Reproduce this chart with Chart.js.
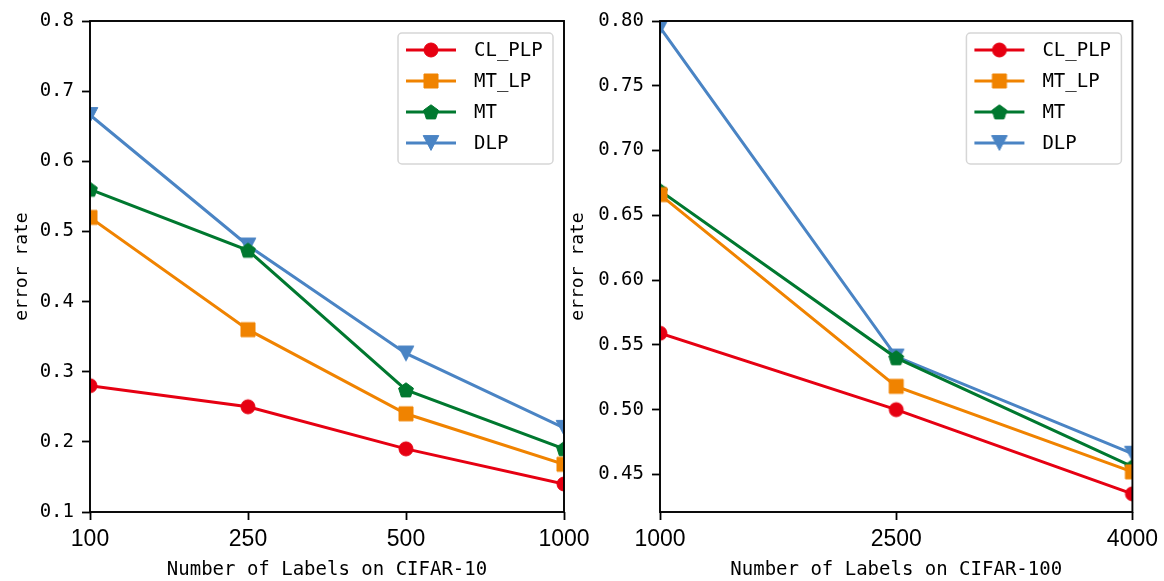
<!DOCTYPE html>
<html><head><meta charset="utf-8">
<script src="https://cdn.jsdelivr.net/npm/chart.js@4.4.1/dist/chart.umd.min.js"></script>
<style>
html,body{margin:0;padding:0;background:#fff;}
#wrap{position:relative;width:1164px;height:581px;overflow:hidden;background:#fff;}
.panel{position:absolute;top:0;height:581px;}
#p1{left:0;width:620px;}
#p2{left:560px;width:604px;}
</style></head><body>
<div id="wrap">
  <div class="panel" id="p1"><canvas id="c1" width="620" height="581"></canvas></div>
  <div class="panel" id="p2"><canvas id="c2" width="604" height="581"></canvas></div>
</div>
<script>
// Series shared by both panels
const seriesNames = ['CL_PLP', 'MT_LP', 'MT', 'DLP'];
const seriesColors = ['#e60012', '#f08300', '#00782f', '#4a84c4'];
const seriesShapes = ['circle', 'square', 'pentagon', 'triangleDown'];

// CIFAR-10 panel
const cifar10Labels = ['100', '250', '500', '1000'];
const cifar10_CL_PLP = [0.28, 0.25, 0.19, 0.14];
const cifar10_MT_LP = [0.52, 0.36, 0.24, 0.168];
const cifar10_MT = [0.56, 0.473, 0.274, 0.19];
const cifar10_DLP = [0.666, 0.48, 0.326, 0.22];
const cifar10Ticks = [0.1, 0.2, 0.3, 0.4, 0.5, 0.6, 0.7, 0.8];

// CIFAR-100 panel
const cifar100Labels = ['1000', '2500', '4000'];
const cifar100_CL_PLP = [0.559, 0.50, 0.435];
const cifar100_MT_LP = [0.666, 0.518, 0.452];
const cifar100_MT = [0.669, 0.540, 0.456];
const cifar100_DLP = [0.795, 0.541, 0.466];
const cifar100Ticks = [0.45, 0.50, 0.55, 0.60, 0.65, 0.70, 0.75, 0.80];

const MONO = '"DejaVu Sans Mono", "Liberation Mono", monospace';
const LINE_W = 3;

// Marker sprites (filled shapes with same-colour edge)
function makeMarker(shape, color) {
  const s = 22, m = s / 2;
  const c = document.createElement('canvas');
  c.width = s; c.height = s;
  const g = c.getContext('2d');
  g.fillStyle = color; g.strokeStyle = color; g.lineWidth = 1;
  g.beginPath();
  if (shape === 'circle') {
    g.arc(m, m, 7, 0, Math.PI * 2);
  } else if (shape === 'square') {
    g.rect(m - 7, m - 7, 14, 14);
  } else if (shape === 'pentagon') {
    const R = 7.8;
    for (let k = 0; k < 5; k++) {
      const a = -Math.PI / 2 + k * 2 * Math.PI / 5;
      const px = m + R * Math.cos(a), py = m + 0.6 + R * Math.sin(a);
      if (k === 0) g.moveTo(px, py); else g.lineTo(px, py);
    }
    g.closePath();
  } else {
    g.moveTo(m, m + 7.4);
    g.lineTo(m - 7.8, m - 7.4);
    g.lineTo(m + 7.8, m - 7.4);
    g.closePath();
  }
  g.fill(); g.stroke();
  return c;
}
const markers = seriesColors.map((col, i) => makeMarker(seriesShapes[i], col));

function buildDatasets(lists) {
  return lists.map((vals, i) => ({
    label: seriesNames[i],
    data: vals,
    borderColor: seriesColors[i],
    backgroundColor: seriesColors[i],
    borderWidth: LINE_W,
    pointStyle: markers[i],
    pointRadius: 7,
    pointHoverRadius: 7,
    tension: 0,
    fill: false,
    clip: 0
  }));
}

// Box frame around the plotting area
const framePlugin = {
  id: 'frame',
  afterDatasetsDraw(chart) {
    const a = chart.chartArea, ctx = chart.ctx;
    ctx.save();
    ctx.strokeStyle = '#000';
    ctx.lineWidth = 1.9;
    ctx.strokeRect(a.left, a.top, a.right - a.left, a.bottom - a.top);
    ctx.restore();
  }
};

// Legend with line + marker samples, upper right corner
const lineLegendPlugin = {
  id: 'lineLegend',
  afterDraw(chart) {
    const a = chart.chartArea, ctx = chart.ctx;
    const w = 155, h = 131;
    const x = a.right - 11 - w, y = a.top + 12;
    ctx.save();
    ctx.beginPath();
    ctx.roundRect(x, y, w, h, 4);
    ctx.fillStyle = 'rgba(255,255,255,0.85)';
    ctx.fill();
    ctx.strokeStyle = '#d6d6d6';
    ctx.lineWidth = 1.5;
    ctx.stroke();
    chart.data.datasets.forEach((ds, i) => {
      const cy = y + 17 + i * 31;
      ctx.beginPath();
      ctx.strokeStyle = ds.borderColor;
      ctx.lineWidth = LINE_W;
      ctx.moveTo(x + 8, cy);
      ctx.lineTo(x + 58, cy);
      ctx.stroke();
      const mk = ds.pointStyle;
      ctx.drawImage(mk, x + 33 - mk.width / 2, cy - mk.height / 2);
      ctx.fillStyle = '#000';
      ctx.font = '19px ' + MONO;
      ctx.textBaseline = 'middle';
      ctx.textAlign = 'left';
      ctx.fillText(ds.label, x + 76, cy + 1);
    });
    ctx.restore();
  }
};

function makeChart(canvasId, labels, lists, ticks, decimals, xTitle, opts) {
  const yTicks = ticks;
  return new Chart(document.getElementById(canvasId), {
    type: 'line',
    data: { labels: labels, datasets: buildDatasets(lists) },
    plugins: [framePlugin, lineLegendPlugin],
    options: {
      responsive: false,
      animation: false,
      devicePixelRatio: 1,
      events: [],
      layout: { autoPadding: false, padding: { left: 0, right: opts.padRight, top: 21, bottom: 0 } },
      plugins: { legend: { display: false }, tooltip: { enabled: false } },
      scales: {
        x: {
          type: 'category',
          offset: false,
          border: { display: false },
          grid: { display: true, drawOnChartArea: false, offset: false, tickLength: 8, tickColor: '#000', tickWidth: 1.8 },
          ticks: { color: '#000', font: { family: '"Liberation Sans", Arial, sans-serif', size: 23 }, padding: 6, maxRotation: 0, autoSkip: false },
          title: { display: true, text: xTitle, color: '#000', font: { family: MONO, size: 19 }, padding: { top: 0, bottom: 0 } },
          afterFit(s) { s.height = 69; }
        },
        y: {
          type: 'linear',
          min: opts.yMin,
          max: opts.yMax,
          border: { display: false },
          grid: { display: true, drawOnChartArea: false, tickLength: 8, tickColor: '#000', tickWidth: 1.8 },
          afterBuildTicks(s) { s.ticks = yTicks.map(v => ({ value: v })); },
          ticks: { color: '#000', font: { family: MONO, size: 19 }, padding: 8, callback: v => Number(v).toFixed(decimals) },
          title: { display: true, text: 'error rate', color: '#000', font: { family: MONO, size: 18 }, padding: { top: opts.yTitlePad, bottom: 0 } },
          afterFit(s) { s.width = opts.yWidth; }
        }
      }
    }
  });
}

makeChart('c1', cifar10Labels,
  [cifar10_CL_PLP, cifar10_MT_LP, cifar10_MT, cifar10_DLP],
  cifar10Ticks, 1, 'Number of Labels on CIFAR-10',
  { padRight: 56, yMin: 0.1, yMax: 0.8, yWidth: 90, yTitlePad: 12 });

makeChart('c2', cifar100Labels,
  [cifar100_CL_PLP, cifar100_MT_LP, cifar100_MT, cifar100_DLP],
  cifar100Ticks, 2, 'Number of Labels on CIFAR-100',
  { padRight: 31, yMin: 0.421, yMax: 0.80, yWidth: 100, yTitlePad: 8 });
</script>
</body></html>
